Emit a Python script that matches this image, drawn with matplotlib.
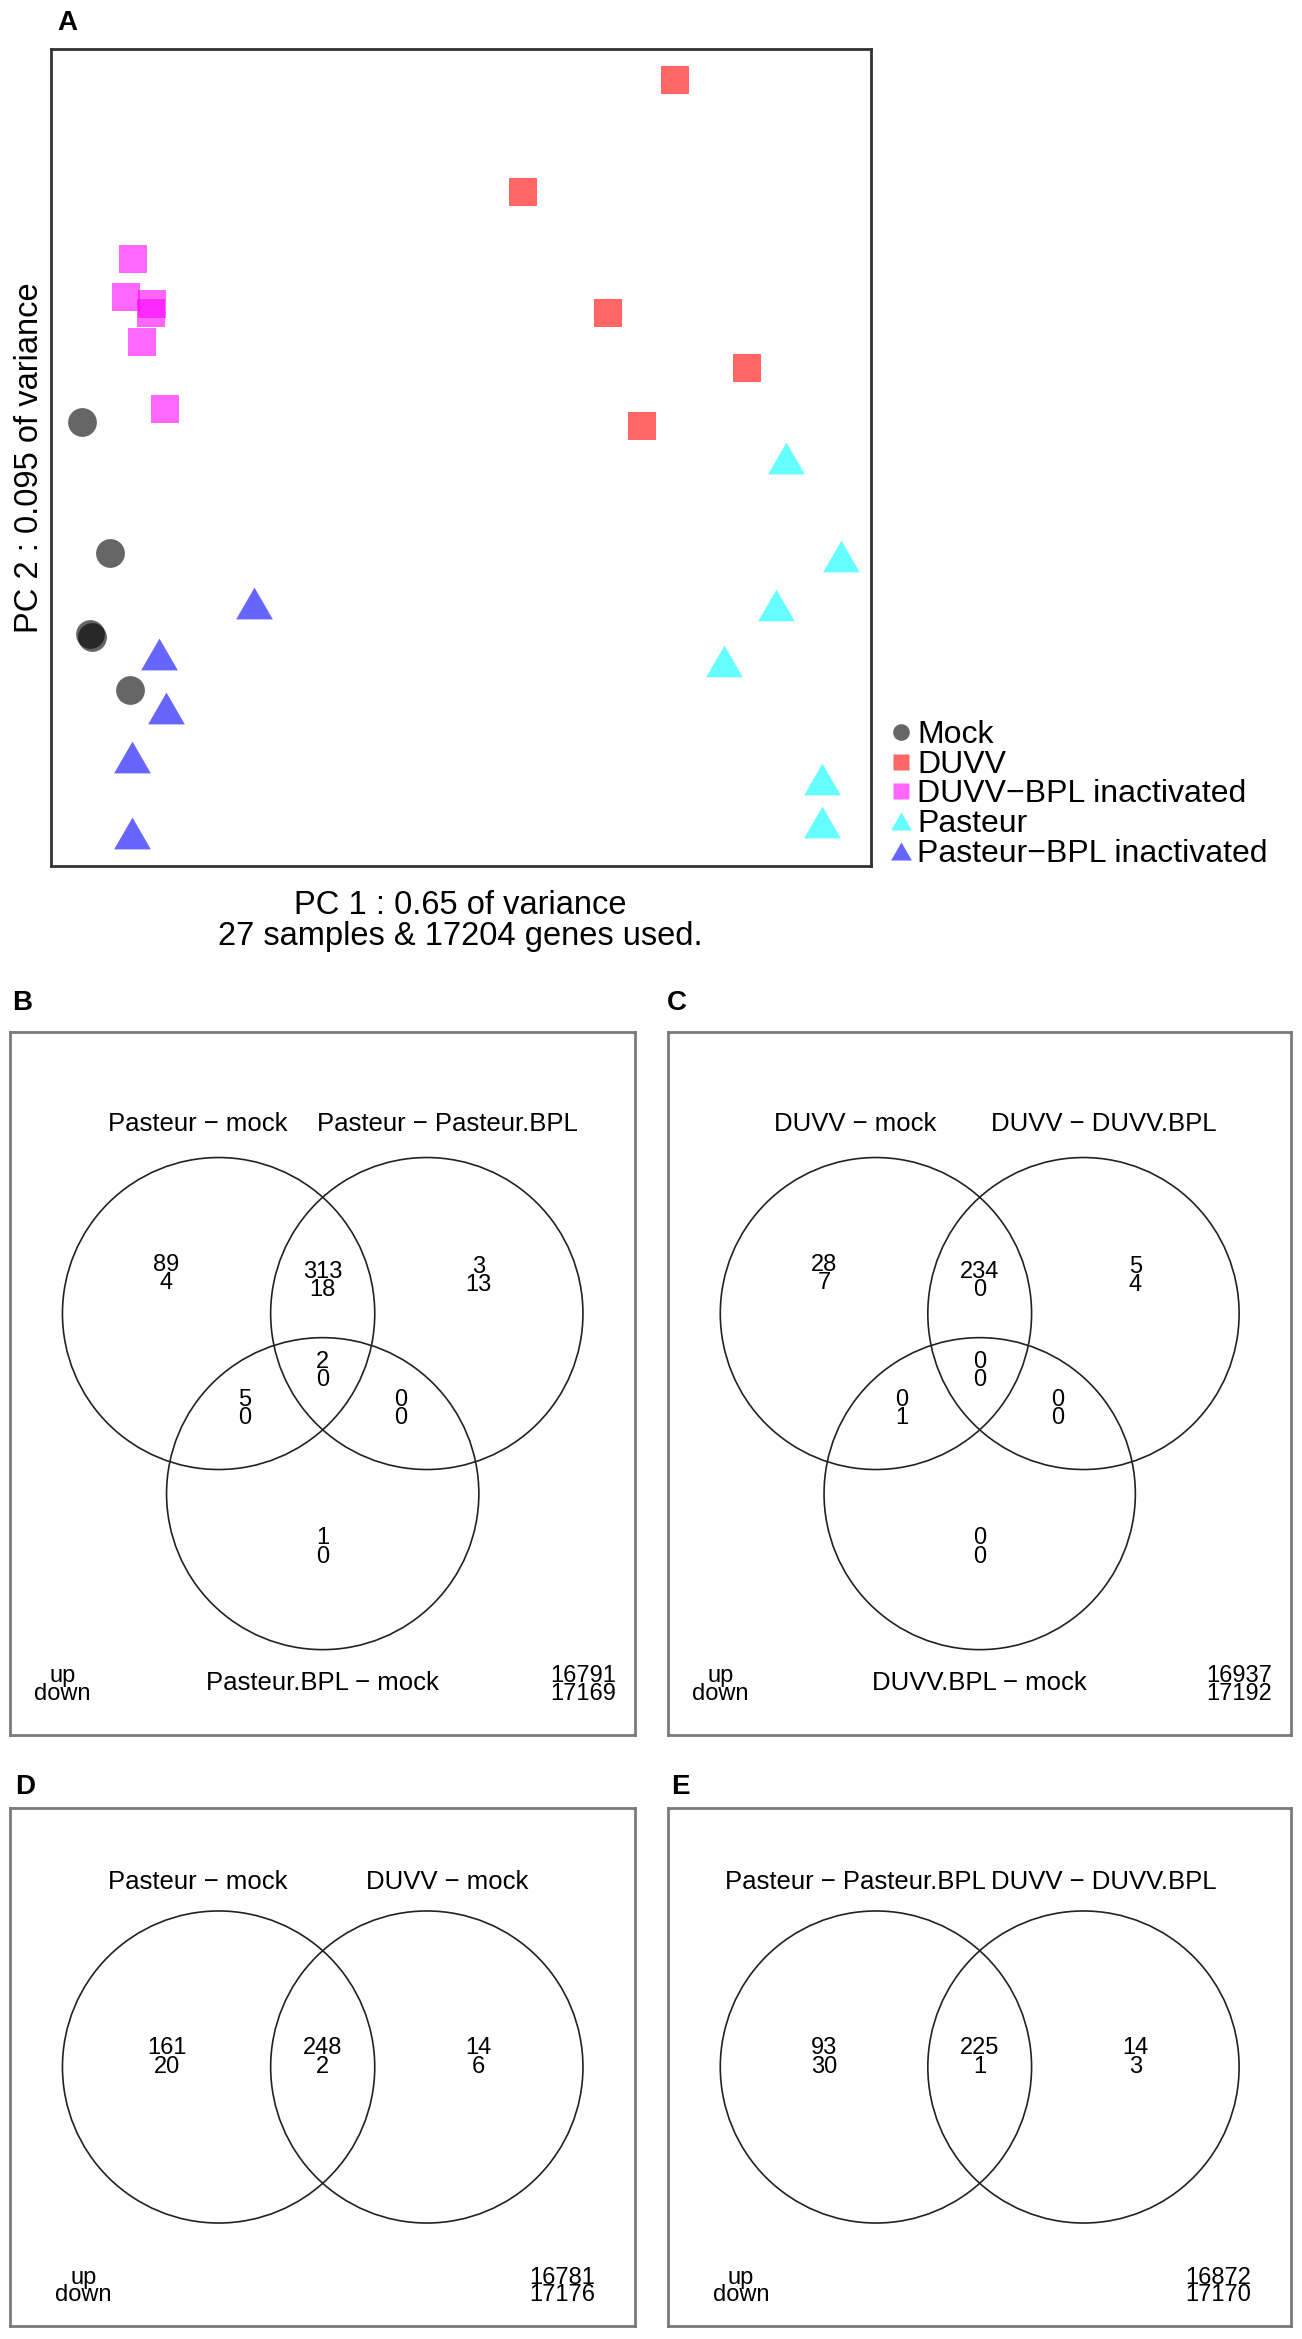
import matplotlib.pyplot as plt
from matplotlib.patches import Circle
from matplotlib.lines import Line2D

plt.rcParams['font.family'] = ['Liberation Sans', 'DejaVu Sans']

W, H = 1302, 2339
dpi = 100

# PCA scores (arbitrary units)
groups = ['Mock', 'DUVV', 'DUVV\u2212BPL inactivated', 'Pasteur',
          'Pasteur\u2212BPL inactivated']
mock_pc1 = [3.9, 7.2, 4.8, 5.1, 9.7]
mock_pc2 = [54.4, 38.3, 28.4, 28.0, 21.6]
duvv_pc1 = [76.1, 57.6, 68.0, 84.9, 72.1]
duvv_pc2 = [96.2, 82.5, 67.7, 61.0, 53.9]
duvvbpl_pc1 = [10.0, 9.2, 12.4, 12.2, 11.1, 14.0]
duvvbpl_pc2 = [74.3, 69.6, 68.8, 67.7, 64.1, 55.9]
past_pc1 = [89.6, 96.3, 88.4, 82.1, 94.0, 94.0]
past_pc2 = [50.0, 38.0, 31.9, 25.1, 10.7, 5.4]
pastbpl_pc1 = [24.8, 13.2, 14.1, 9.9, 9.9]
pastbpl_pc2 = [32.2, 26.0, 19.4, 13.4, 4.0]

# Venn counts, regions: A only, AB, B only, AC, ABC, BC, C only
b_names = ['Pasteur \u2212 mock', 'Pasteur \u2212 Pasteur.BPL', 'Pasteur.BPL \u2212 mock']
b_up = [89, 313, 3, 5, 2, 0, 1]
b_down = [4, 18, 13, 0, 0, 0, 0]
b_rest = [16791, 17169]

c_names = ['DUVV \u2212 mock', 'DUVV \u2212 DUVV.BPL', 'DUVV.BPL \u2212 mock']
c_up = [28, 234, 5, 0, 0, 0, 0]
c_down = [7, 0, 4, 1, 0, 0, 0]
c_rest = [16937, 17192]

# two-set venns, regions: A only, AB, B only
d_names = ['Pasteur \u2212 mock', 'DUVV \u2212 mock']
d_up = [161, 248, 14]
d_down = [20, 2, 6]
d_rest = [16781, 17176]

e_names = ['Pasteur \u2212 Pasteur.BPL', 'DUVV \u2212 DUVV.BPL']
e_up = [93, 225, 14]
e_down = [30, 1, 3]
e_rest = [16872, 17170]

pt_cols = ['#000000', '#ff0000', '#ff00ff', '#00ffff', '#0000ff']
tri = [(-1, -0.866), (1, -0.866), (0, 0.866)]


def px_axes(left, top, right, bottom):
    return fig.add_axes([left / W, 1 - bottom / H, (right - left) / W,
                         (bottom - top) / H])


def frame(ax, col, lw):
    ax.set_xticks([])
    ax.set_yticks([])
    for s in ax.spines.values():
        s.set_color(col)
        s.set_linewidth(lw)


def two_line(ax, x, y, a, b, dy, fs):
    ax.text(x, y + dy, str(a), ha='center', va='center', fontsize=fs)
    ax.text(x, y - dy, str(b), ha='center', va='center', fontsize=fs)


def venn3(ax, names, up, down, rest):
    ax.set_xlim(-3, 3)
    ax.set_ylim(-3.05, 3.71)
    frame(ax, '#7a7a7a', 2.0)
    for cx, cy in [(-1, 1), (1, 1), (0, 1 - 3 ** 0.5)]:
        ax.add_patch(Circle((cx, cy), 1.5, fill=False, ec='#222222', lw=1.2))
    ax.text(-1.2, 2.82, names[0], ha='center', va='center', fontsize=18.5)
    ax.text(1.2, 2.82, names[1], ha='center', va='center', fontsize=18.5)
    ax.text(0, -2.55, names[2], ha='center', va='center', fontsize=18.5)
    pos = [(-1.5, 1.38), (0, 1.31), (1.5, 1.36), (-0.75, 0.08),
           (0, 0.45), (0.75, 0.08), (0, -1.25)]
    for (x, y), u, d in zip(pos, up, down):
        two_line(ax, x, y, u, d, 0.087, 17)
    two_line(ax, -2.5, -2.57, 'up', 'down', 0.087, 17)
    two_line(ax, 2.5, -2.57, rest[0], rest[1], 0.087, 17)


def venn2(ax, names, up, down, rest):
    ax.set_xlim(-3, 3)
    ax.set_ylim(-2.49, 2.49)
    frame(ax, '#7a7a7a', 2.0)
    for cx in [-1, 1]:
        ax.add_patch(Circle((cx, 0), 1.5, fill=False, ec='#222222', lw=1.2))
    ax.text(-1.2, 1.78, names[0], ha='center', va='center', fontsize=18.5)
    ax.text(1.2, 1.78, names[1], ha='center', va='center', fontsize=18.5)
    for x, u, d in zip([-1.5, 0, 1.5], up, down):
        two_line(ax, x, 0.09, u, d, 0.092, 17)
    two_line(ax, -2.3, -2.11, 'up', 'down', 0.085, 17)
    two_line(ax, 2.3, -2.11, rest[0], rest[1], 0.085, 17)


fig = plt.figure(figsize=(W / dpi, H / dpi), dpi=dpi)

# --- A: PCA
ax = px_axes(50.5, 49, 871, 866)
ax.set_xlim(0, 100)
ax.set_ylim(0, 100)
frame(ax, '#333333', 2.0)
ax.scatter(mock_pc1, mock_pc2, s=430, marker='o', c=pt_cols[0], alpha=0.6,
           linewidths=0)
ax.scatter(duvv_pc1, duvv_pc2, s=430, marker='s', c=pt_cols[1], alpha=0.6,
           linewidths=0)
ax.scatter(duvvbpl_pc1, duvvbpl_pc2, s=430, marker='s', c=pt_cols[2],
           alpha=0.6, linewidths=0)
ax.scatter(past_pc1, past_pc2, s=700, marker=tri, c=pt_cols[3], alpha=0.6,
           linewidths=0)
ax.scatter(pastbpl_pc1, pastbpl_pc2, s=700, marker=tri, c=pt_cols[4],
           alpha=0.6, linewidths=0)
ax.set_xlabel('PC 1 : 0.65 of variance\n27 samples & 17204 genes used.',
              fontsize=23.5, labelpad=17, linespacing=1.0)
ax.set_ylabel('PC 2 : 0.095 of variance', fontsize=23.5, labelpad=4)

handles = [
    Line2D([], [], ls='none', marker='o', ms=12, mfc=pt_cols[0], mec='none', alpha=0.6),
    Line2D([], [], ls='none', marker='s', ms=12, mfc=pt_cols[1], mec='none', alpha=0.6),
    Line2D([], [], ls='none', marker='s', ms=12, mfc=pt_cols[2], mec='none', alpha=0.6),
    Line2D([], [], ls='none', marker=tri, ms=15, mfc=pt_cols[3], mec='none', alpha=0.6),
    Line2D([], [], ls='none', marker=tri, ms=15, mfc=pt_cols[4], mec='none', alpha=0.6),
]
fig.legend(handles, groups, loc='upper left',
           bbox_to_anchor=(893 / W, 1 - 720 / H), frameon=False, fontsize=23,
           handlelength=0.52, handletextpad=0.24, borderpad=0, borderaxespad=0,
           labelspacing=-0.01)

# --- B..E: Venn diagrams
venn3(px_axes(10.4, 1031.7, 635, 1734.7), b_names, b_up, b_down, b_rest)
venn3(px_axes(668.4, 1031.7, 1291, 1734.7), c_names, c_up, c_down, c_rest)
venn2(px_axes(10.4, 1808, 635, 2326), d_names, d_up, d_down, d_rest)
venn2(px_axes(668.4, 1808, 1291, 2326), e_names, e_up, e_down, e_rest)

for lab, x, y in [('A', 67, 23), ('B', 22, 1003), ('C', 677, 1003),
                  ('D', 25, 1787), ('E', 680, 1787)]:
    fig.text(x / W, 1 - y / H, lab, fontsize=20, fontweight='bold',
             ha='center', va='center')

fig.savefig('out.png', dpi=dpi)
